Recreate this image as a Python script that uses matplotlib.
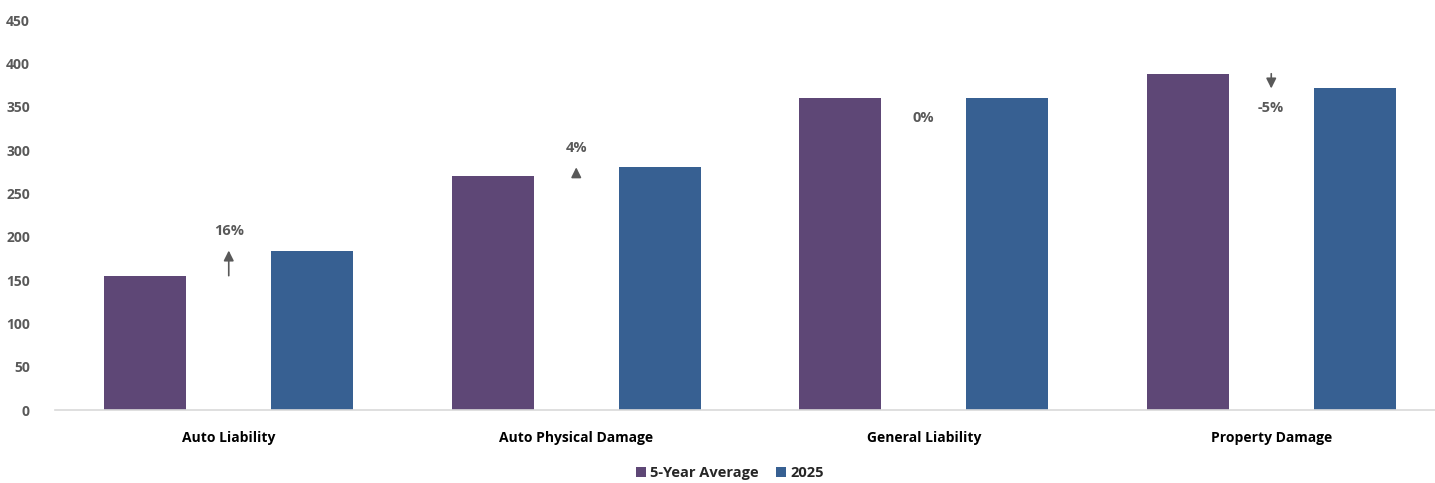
#!/usr/bin/env python3
import numpy as np
import matplotlib
matplotlib.use('Agg')
import matplotlib.pyplot as plt

plt.rcParams['font.family'] = ['Open Sans', 'DejaVu Sans']

# claim cost by line of coverage
categories = ['Auto Liability', 'Auto Physical Damage', 'General Liability', 'Property Damage']
avg_5yr = [155, 270, 360, 388]
year_2025 = [184, 280, 360, 371]
changes = ['16%', '4%', '0%', '-5%']

purple = '#5E4776'
blue = '#376092'
grey_text = '#595959'

fig = plt.figure(figsize=(14.35, 4.83), dpi=100)
ax = fig.add_axes([55 / 1435, 73 / 483, 1390 / 1435, 390 / 483])

x = np.arange(len(categories))
width = 0.236
offset = 0.24
ax.bar(x - offset, avg_5yr, width, color=purple, label='5-Year Average')
ax.bar(x + offset, year_2025, width, color=blue, label='2025')

# change arrows and percentage labels between each pair of bars
for i in range(len(categories)):
    a, b = avg_5yr[i], year_2025[i]
    if b != a:
        ax.annotate('', xy=(x[i], b), xytext=(x[i], a),
                    arrowprops=dict(arrowstyle='-|>,head_length=0.6,head_width=0.3',
                                    color=grey_text, lw=1.2, shrinkA=0, shrinkB=0))
    if b > a:
        ty = b + 22
    else:
        ty = b - 23
    ax.text(x[i], ty, changes[i], ha='center', va='center', fontsize=10.5,
            fontweight='bold', color=grey_text)

ax.set_xlim(-0.5, 3.5)
ax.set_ylim(0, 450)
ax.set_yticks(np.arange(0, 451, 50))
ax.set_xticks(x)
ax.set_xticklabels(categories, fontsize=10, fontweight='bold', color='black')
ax.tick_params(axis='y', length=0, pad=18, labelsize=10, labelcolor=grey_text)
ax.tick_params(axis='x', length=0, pad=15)
for lbl in ax.get_yticklabels():
    lbl.set_fontweight('bold')

for side in ['top', 'right', 'left']:
    ax.spines[side].set_visible(False)
ax.spines['bottom'].set_color('#D9D9D9')
ax.spines['bottom'].set_linewidth(1.2)

leg = fig.legend(loc='center', bbox_to_anchor=(730 / 1435, 10 / 483), ncol=2,
                 frameon=False, handlelength=0.65, handleheight=0.65,
                 handletextpad=0.3, columnspacing=1.2, borderpad=0.2,
                 prop={'size': 10.5, 'weight': 'bold'})
for t in leg.get_texts():
    t.set_color('#262626')

fig.savefig('out.png', dpi=100)
